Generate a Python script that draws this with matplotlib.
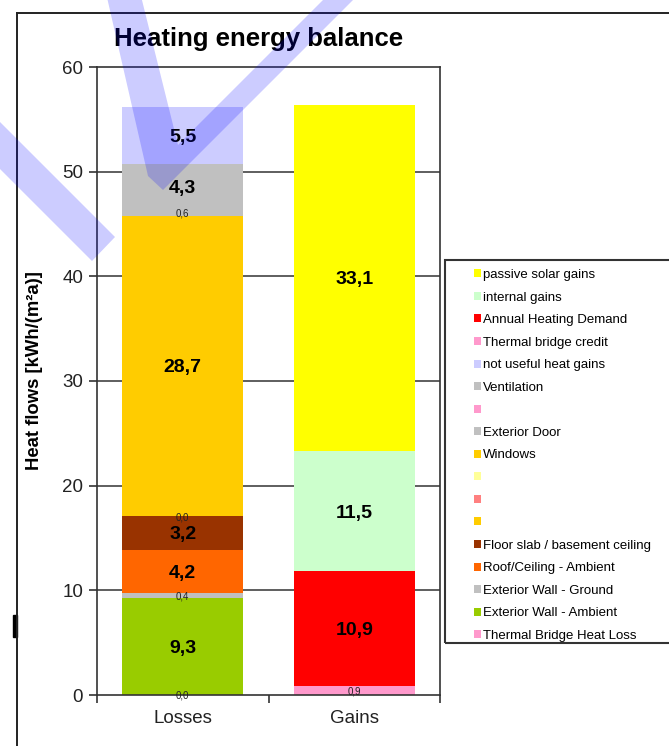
import numpy as np
import matplotlib
matplotlib.use("Agg")
import matplotlib.pyplot as plt
from matplotlib.patches import Patch, Rectangle, Polygon
from matplotlib.lines import Line2D

plt.rcParams['font.family'] = ['Liberation Sans', 'DejaVu Sans']

nan = np.nan
categories = ["Losses", "Gains"]

# series in legend order (top to bottom); stacked bottom-up in reverse
series_names = ["passive solar gains", "internal gains", "Annual Heating Demand",
                "Thermal bridge credit", "not useful heat gains", "Ventilation", "",
                "Exterior Door", "Windows", "", "", "",
                "Floor slab / basement ceiling", "Roof/Ceiling - Ambient",
                "Exterior Wall - Ground", "Exterior Wall - Ambient",
                "Thermal Bridge Heat Loss"]
series_colors = ["#FFFF00", "#CCFFCC", "#FF0000", "#FF99CC", "#CCCCFF", "#C0C0C0",
                 "#FF99CC", "#C0C0C0", "#FFCC00", "#FFFF99", "#FF8080", "#FFCC00",
                 "#993300", "#FF6600", "#C0C0C0", "#99CC00", "#FF99CC"]
losses = [nan, nan, nan, nan, 5.5, 4.3, nan, 0.6, 28.7, nan, nan, 0.0,
          3.2, 4.2, 0.4, 9.3, 0.0]
gains = [33.1, 11.5, 10.9, 0.9, nan, nan, nan, nan, nan, nan, nan, nan,
         nan, nan, nan, nan, nan]

yticks = [0, 10, 20, 30, 40, 50, 60]

W, H = 669, 746
fig = plt.figure(figsize=(W / 100, H / 100), dpi=100)


def fx(px):
    return px / W


def fy(py):
    return 1 - py / H


ax = fig.add_axes([fx(97), fy(695), fx(440) - fx(97), fy(67) - fy(695)])

values = np.array([losses, gains]).T  # shape (series, category)
bottoms = np.zeros(len(categories))
for i in reversed(range(len(series_names))):
    for c in range(len(categories)):
        v = values[i, c]
        if np.isnan(v):
            continue
        ax.bar(c, v, width=0.705, bottom=bottoms[c], color=series_colors[i],
               edgecolor='none', zorder=2)
        txt = f"{v:.1f}".replace('.', ',')
        if v >= 1:
            ax.text(c, bottoms[c] + v / 2, txt, ha='center', va='center_baseline',
                    fontsize=14, fontweight='bold', color='black', zorder=4)
        else:
            ax.text(c, bottoms[c] + v / 2, txt, ha='center', va='center_baseline',
                    fontsize=7, color='#222222', zorder=4)
        bottoms[c] += v

ax.set_xlim(-0.5, 1.5)
ax.set_ylim(0, 60)
ax.set_yticks(yticks)
ax.set_xticks(range(len(categories)))
ax.set_xticklabels(categories)
ax.set_xticks([-0.5, 0.5, 1.5], minor=True)
ax.tick_params(axis='x', which='major', length=0, pad=11, labelsize=13.5,
               labelcolor='#222222')
ax.tick_params(axis='x', which='minor', length=6, width=1.2, direction='out',
               color='#333333')
ax.tick_params(axis='y', length=6, width=1.2, direction='out', pad=4,
               labelsize=13.5, labelcolor='#222222', color='#333333')
for y in yticks[1:-1]:
    ax.axhline(y, color='#333333', lw=1.1, zorder=1)
for s in ax.spines.values():
    s.set_color('#333333')
    s.set_linewidth(1.2)

fig.text(fx(259), fy(39), "Heating energy balance", ha='center', va='center',
         fontsize=18.5, fontweight='bold', color='black')
fig.text(fx(35), fy(371), "Heat flows [kWh/(m²a)]", rotation=90, ha='center',
         va='center', fontsize=13.3, fontweight='bold', color='black')

# legend box and entries
fig.add_artist(Rectangle((fx(445), fy(643)), fx(700) - fx(445), fy(260) - fy(643),
                         transform=fig.transFigure, fill=False,
                         edgecolor='#333333', lw=1.5))
handles = [Patch(facecolor=c, edgecolor='none') for c in series_colors]
fig.legend(handles, series_names, loc='upper left',
           bbox_to_anchor=(fx(474), fy(269)), frameon=False, borderpad=0,
           borderaxespad=0, fontsize=9.5, handlelength=0.55, handleheight=0.55,
           handletextpad=0.1, labelspacing=0.8)

# outer frame
fig.add_artist(Line2D([fx(17), fx(17)], [fy(13), fy(760)],
                      transform=fig.transFigure, color='#222222', lw=1.4))
fig.add_artist(Line2D([fx(17), fx(700)], [fy(13), fy(13)],
                      transform=fig.transFigure, color='#222222', lw=1.4))
fig.add_artist(Rectangle((fx(13), fy(637)), fx(17) - fx(13), fy(615) - fy(637),
                         transform=fig.transFigure, color='black'))

# translucent pen strokes drawn over the chart
strokes = [
    [(103, -20), (148, 176), (163, 190), (373, -20), (343, -20), (178, 145),
     (137, -20)],
    [(-60, 62), (115, 237), (92, 261), (-60, 109)],
]
for pts in strokes:
    fig.add_artist(Polygon([(fx(x), fy(y)) for x, y in pts], closed=True,
                           transform=fig.transFigure, facecolor='#0000FF',
                           edgecolor='none', alpha=0.2, zorder=10))

fig.savefig("out.png", dpi=100)
